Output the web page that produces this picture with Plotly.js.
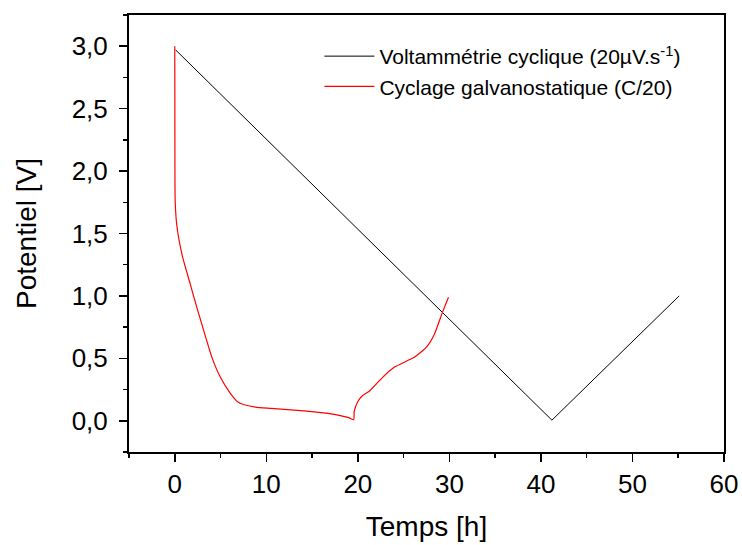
<!DOCTYPE html>
<html>
<head>
<meta charset="utf-8">
<script src="https://cdn.plot.ly/plotly-3.0.1.min.js"></script>
<style>html,body{margin:0;padding:0;background:#fff;}#chart{width:742px;height:545px;}</style>
</head>
<body>
<div id="chart"></div>
<script>
// Voltammétrie cyclique (20 µV/s)
const cvTime = [0.1, 41.2, 55.1];
const cvPotential = [2.97, 0.005, 1.0];

// Cyclage galvanostatique (C/20)
const gcTime = [0, 0.01, 0.02, 0.05, 0.2, 0.46, 0.93, 1.67, 2.4, 3.13, 4.05, 4.97, 6.07, 6.9, 7.5, 8.8, 10.5, 14.1, 16.7, 18.2, 19.0, 19.55, 19.6, 20.0, 20.5, 21.3, 22.6, 24.0, 26.2, 27.5, 28.4, 29.2, 29.9];
const gcPotential = [3.0, 2.6, 1.93, 1.75, 1.58, 1.45, 1.29, 1.10, 0.91, 0.73, 0.51, 0.35, 0.22, 0.15, 0.13, 0.11, 0.10, 0.08, 0.06, 0.04, 0.025, 0.008, 0.075, 0.155, 0.2, 0.24, 0.34, 0.43, 0.51, 0.59, 0.70, 0.86, 0.99];

const seriesNames = ["Voltammétrie cyclique (20µV.s<sup>-1</sup>)", "Cyclage galvanostatique (C/20)"];
const xTicks = [0, 10, 20, 30, 40, 50, 60];
const yTicks = [0, 0.5, 1.0, 1.5, 2.0, 2.5, 3.0];

const FONT = "Liberation Sans, Arial, sans-serif";

const traces = [
  {x: cvTime, y: cvPotential, type: "scatter", mode: "lines", name: seriesNames[0],
   line: {color: "#000000", width: 1}},
  {x: gcTime, y: gcPotential, type: "scatter", mode: "lines", name: seriesNames[1],
   line: {color: "#ff0000", width: 1.2, shape: "spline", smoothing: 0.5}}
];

const axisCommon = {
  showgrid: false, zeroline: false, showline: true, linecolor: "#000", linewidth: 2,
  mirror: true, ticks: "outside", ticklen: 8, tickwidth: 1.5, tickcolor: "#000",
  tickfont: {family: FONT, size: 26, color: "#000"}
};

const layout = {
  width: 742, height: 545,
  margin: {l: 129, r: 18, t: 15, b: 93},
  paper_bgcolor: "#fff", plot_bgcolor: "#fff",
  separators: ", ",
  showlegend: true,
  legend: {x: 0.32, y: 0.952, xanchor: "left", yanchor: "top", itemwidth: 50,
           font: {family: FONT, size: 21, color: "#000"}, bgcolor: "rgba(0,0,0,0)",
           tracegroupgap: 0},
  xaxis: Object.assign({}, axisCommon, {
    range: [-5, 60], tickvals: xTicks, ticktext: xTicks.map(String),
    minor: {dtick: 5, tick0: 0, ticks: "outside", ticklen: 4, tickwidth: 1.5, tickcolor: "#000"},
    title: {text: "Temps [h]", font: {family: FONT, size: 28, color: "#000"}, standoff: 18}
  }),
  yaxis: Object.assign({}, axisCommon, {
    range: [-0.25, 3.25], tickvals: yTicks, tickformat: ".1f", ticklabelstandoff: 6,
    minor: {dtick: 0.25, tick0: 0, ticks: "outside", ticklen: 4, tickwidth: 1.5, tickcolor: "#000"},
    title: {text: "Potentiel [V]", font: {family: FONT, size: 28, color: "#000"}, standoff: 27}
  })
};

Plotly.newPlot("chart", traces, layout, {displayModeBar: false, staticPlot: true});
</script>
</body>
</html>
